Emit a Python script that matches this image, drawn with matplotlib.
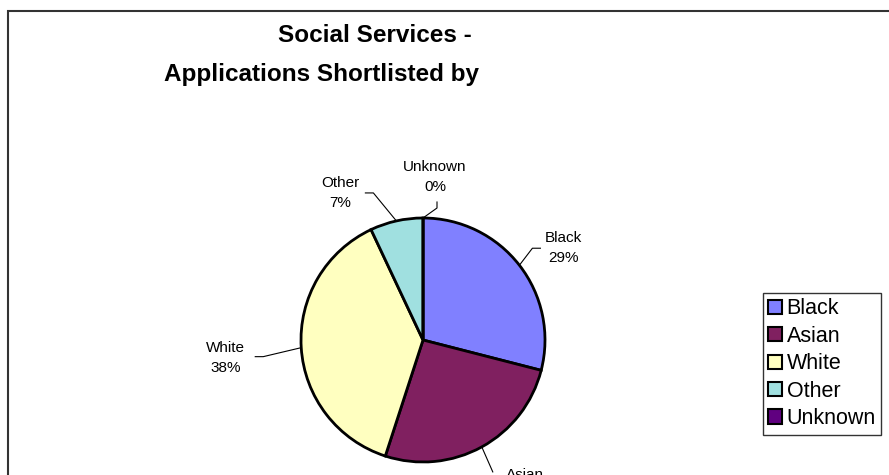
import numpy as np
import matplotlib
matplotlib.use('Agg')
import matplotlib.pyplot as plt
from matplotlib.patches import Patch, Rectangle

plt.rcParams['font.family'] = ['Liberation Sans', 'DejaVu Sans']

# data
categories = ['Black', 'Asian', 'White', 'Other', 'Unknown']
percent = [29, 26, 38, 7, 0]
colors = ['#8080FF', '#802060', '#FFFFC0', '#A0E0E0', '#600080']

# leader line offsets from wedge edge (px): elbow, end, label centre
leaders = {
    'Black':   [(13, 17), (21, 17), (44, 17)],
    'Asian':   [(11, -25), (11, -25), (43, -38)],
    'White':   [(-38, -9), (-46, -9), (-76, -10)],
    'Other':   [(-23, 28), (-31, 28), (-56, 28)],
    'Unknown': [(14, 10), (14, 16), (12, 41)],
}

W, H = 889, 475
fig = plt.figure(figsize=(W / 100, H / 100), dpi=100)
ax = fig.add_axes([0, 0, 1, 1])

cx, cy, r = 423, 135, 122
wedges, _ = ax.pie(percent, colors=colors, startangle=90, counterclock=False,
                   center=(cx, cy), radius=r,
                   wedgeprops=dict(edgecolor='black', linewidth=2))
ax.set_xlim(0, W)
ax.set_ylim(0, H)
ax.set_aspect('equal')
ax.axis('off')

# outer chart frame (cropped at bottom/right)
ax.add_patch(Rectangle((8, -60), W + 50, H - 11 + 60, fill=False,
                       edgecolor='#333333', linewidth=1.5, clip_on=False))

for w, name, p in zip(wedges, categories, percent):
    ang = np.deg2rad((w.theta1 + w.theta2) / 2)
    ex, ey = cx + r * np.cos(ang), cy + r * np.sin(ang)
    (e1x, e1y), (e2x, e2y), (tx, ty) = leaders[name]
    ax.plot([ex, ex + e1x, ex + e2x], [ey, ey + e1y, ey + e2y],
            color='black', linewidth=0.8, clip_on=False)
    ax.text(ex + tx, ey + ty, f'{name}\n{p}%', ha='center', va='center',
            fontsize=11, linespacing=1.55, clip_on=False)

# title (two lines centred separately as in the original)
ax.text(375, H - 35, 'Social Services -', ha='center', va='center',
        fontsize=17.5, fontweight='bold')
ax.text(322, H - 74, 'Applications Shortlisted by', ha='center', va='center',
        fontsize=17.5, fontweight='bold')

handles = [Patch(facecolor=c, edgecolor='black', linewidth=1.5) for c in colors]
leg = fig.legend(handles, categories, loc='upper left',
                 bbox_to_anchor=(763 / W, 1 - 293 / H), fontsize=15.5,
                 frameon=True, fancybox=False, borderpad=0.25,
                 handlelength=0.65, handleheight=0.65, handletextpad=0.2,
                 labelspacing=0.3, borderaxespad=0)
leg.get_frame().set_edgecolor('black')
leg.get_frame().set_linewidth(1)

fig.savefig('out.png', dpi=100)
